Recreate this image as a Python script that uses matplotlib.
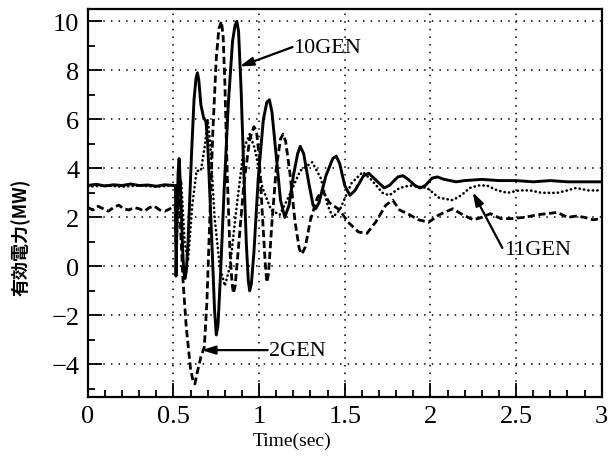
import numpy as np
import matplotlib.pyplot as plt
from matplotlib.ticker import MultipleLocator

# 10GEN (solid)
t_10 = [0, 0.05, 0.1, 0.15, 0.2, 0.25, 0.3, 0.35, 0.4, 0.45, 0.5, 0.512,
        0.515, 0.52, 0.527, 0.533, 0.54, 0.553, 0.56, 0.567, 0.575, 0.585, 0.605,
        0.62, 0.632, 0.64, 0.648, 0.66, 0.675, 0.69, 0.7, 0.712, 0.727, 0.74, 0.75,
        0.76, 0.775, 0.795, 0.82, 0.845, 0.86, 0.87, 0.88, 0.895, 0.91, 0.925, 0.937,
        0.945, 0.955, 0.97, 0.995, 1.025, 1.045, 1.06, 1.075, 1.1, 1.125, 1.15, 1.175,
        1.2, 1.225, 1.24, 1.26, 1.29, 1.315, 1.33, 1.35, 1.39, 1.43, 1.45, 1.47, 1.5,
        1.53, 1.56, 1.61, 1.64, 1.67, 1.73, 1.76, 1.81, 1.84, 1.87, 1.91, 1.94, 1.97,
        2.01, 2.04, 2.08, 2.15, 2.2, 2.3, 2.4, 2.5, 2.6, 2.7, 2.8, 2.9, 3.0]
p_10 = [3.3, 3.35, 3.28, 3.33, 3.3, 3.36, 3.3, 3.32, 3.27, 3.33, 3.3, 3.3,
        -0.4, 1.5, 3.8, 4.4, 3.4, 0.8, -0.2, -0.5, -0.2, 1.0, 4.5,
        6.8, 7.7, 7.9, 7.6, 6.6, 6.1, 5.9, 5.0, 3.0, 0.5, -1.8, -2.8,
        -2.4, -0.3, 3.0, 6.6, 9.2, 9.85, 10.0, 9.6, 7.2, 4.0, 1.0, -0.6,
        -1.0, -0.7, 0.6, 3.6, 6.0, 6.7, 6.8, 6.3, 4.5, 2.7, 2.0, 2.5,
        3.7, 4.6, 4.9, 4.6, 3.4, 2.5, 2.35, 2.6, 3.7, 4.4, 4.5, 4.2, 3.3,
        2.9, 3.1, 3.7, 3.8, 3.6, 3.2, 3.3, 3.65, 3.7, 3.55, 3.3, 3.2, 3.3,
        3.6, 3.65, 3.55, 3.45, 3.5, 3.55, 3.5, 3.5, 3.45, 3.5, 3.45, 3.45, 3.45]

# 2GEN (dashed)
t_2 = [0, 0.03, 0.06, 0.09, 0.12, 0.15, 0.18, 0.21, 0.24, 0.27, 0.3, 0.33, 0.36,
       0.39, 0.42, 0.45, 0.48, 0.51,
       0.515, 0.522, 0.53, 0.54, 0.555, 0.575, 0.6, 0.615, 0.625, 0.64, 0.66, 0.68,
       0.695, 0.71, 0.73, 0.75, 0.765, 0.78, 0.79, 0.8, 0.815, 0.83, 0.842, 0.85,
       0.86, 0.88, 0.91, 0.945, 0.97, 0.985, 1.0, 1.02, 1.035, 1.045, 1.055, 1.075,
       1.1, 1.125, 1.14, 1.155, 1.18, 1.21, 1.235, 1.25, 1.27, 1.3, 1.34, 1.37,
       1.41, 1.47, 1.52, 1.58, 1.63, 1.68, 1.74, 1.78, 1.82, 1.88, 1.93, 1.99,
       2.05, 2.13, 2.19, 2.25, 2.3, 2.35, 2.41, 2.47, 2.55, 2.62, 2.68, 2.74, 2.8,
       2.85, 2.9, 2.95, 3.0]
p_2 = [2.4, 2.3, 2.45, 2.35, 2.25, 2.4, 2.5, 2.35, 2.3, 2.4, 2.35, 2.25, 2.4,
       2.45, 2.3, 2.25, 2.35, 2.5,
       1.0, 3.0, 3.5, 1.8, -0.5, -2.5, -4.2, -4.7, -4.8, -4.3, -3.7, -3.3,
       -1.5, 1.5, 5.5, 8.5, 9.7, 10.0, 9.4, 7.5, 3.5, 0.6, -0.7, -1.1,
       -0.8, 0.8, 3.3, 5.2, 5.7, 5.5, 4.5, 2.0, 0.2, -0.65, -0.3, 1.8,
       4.0, 5.2, 5.4, 5.1, 3.8, 1.8, 0.7, 0.5, 0.8, 1.9, 2.8, 3.1,
       2.6, 2.3, 1.8, 1.4, 1.35, 1.8, 2.5, 2.7, 2.3, 2.1, 1.9, 1.8,
       2.1, 2.35, 2.1, 1.9, 2.0, 2.15, 1.95, 1.95, 2.0, 2.1, 2.15, 2.2, 2.0,
       2.05, 2.0, 1.9, 1.95]

# 11GEN (dotted)
t_11 = [0, 0.1, 0.2, 0.3, 0.4, 0.5, 0.512,
        0.515, 0.525, 0.545, 0.565, 0.585, 0.61, 0.635, 0.66, 0.685, 0.7, 0.715,
        0.74, 0.77, 0.8, 0.83, 0.87, 0.91, 0.945, 0.975, 1.02, 1.07, 1.12, 1.17,
        1.24, 1.31, 1.36, 1.4, 1.43, 1.47, 1.54, 1.605, 1.66, 1.72, 1.76, 1.82,
        1.88, 1.93, 1.98, 2.05, 2.13, 2.18, 2.23, 2.28, 2.33, 2.39, 2.45, 2.52,
        2.58, 2.65, 2.74, 2.8, 2.85, 2.92, 3.0]
p_11 = [3.25, 3.3, 3.25, 3.3, 3.25, 3.3, 3.3,
        0.5, 2.0, 3.5, 1.0, 0.2, 2.5, 3.9, 3.9, 5.0, 6.0, 5.0,
        2.0, 0.0, -0.8, 0.0, 2.5, 4.8, 5.4, 4.8, 3.2, 2.3, 2.1, 2.8,
        3.9, 4.25, 3.6, 2.5, 2.0, 2.3, 3.4, 3.85, 3.5, 3.0, 2.9, 3.2,
        3.3, 3.25, 3.2, 2.8, 2.7, 2.9, 3.2, 3.3, 3.3, 3.1, 3.0, 3.1,
        3.1, 3.0, 3.0, 3.1, 3.2, 3.1, 3.1]

xticks = [0, 0.5, 1, 1.5, 2, 2.5, 3]
yticks = [-4, -2, 0, 2, 4, 6, 8, 10]

plt.rcParams['font.family'] = ['Liberation Serif', 'DejaVu Serif']

fig = plt.figure(figsize=(6.14, 4.6), dpi=100)
ax = fig.add_axes([0.143, 0.135, 0.837, 0.843])

ax.plot(t_10, p_10, color='k', lw=2.1, ls='-', solid_joinstyle='round')
ax.plot(t_2, p_2, color='k', lw=2.0, ls=(0, (2.6, 1.3)))
ax.plot(t_11, p_11, color='k', lw=1.9, ls=(0, (0.1, 1.6)), dash_capstyle='round')

ax.set_xlim(0, 3)
ax.set_ylim(-5.33, 10.5)
ax.set_xticks(xticks)
ax.set_xticklabels(['0', '0.5', '1', '1.5', '2', '2.5', '3'])
ax.set_yticks(yticks)
ax.set_yticklabels(['\u22124', '\u22122', '0', '2', '4', '6', '8', '10'])
ax.xaxis.set_minor_locator(MultipleLocator(0.1))
ax.yaxis.set_minor_locator(MultipleLocator(1))
ax.tick_params(which='both', direction='in', top=False, right=False,
               labelsize=19, width=1.3, pad=6)
ax.tick_params(which='major', length=10)
ax.tick_params(which='minor', length=5)
ax.grid(True, which='major', color='k', ls=(0, (1, 4)), lw=1.1)
for s in ax.spines.values():
    s.set_linewidth(1.6)

ax.set_xlabel('Time(sec)', fontsize=14)
ax.xaxis.set_label_coords(0.397, -0.09)
ax.set_ylabel('有効電力(MW)', fontsize=13, family=['Noto Sans CJK JP', 'DejaVu Sans'],
              fontweight='bold')
ax.yaxis.set_label_coords(-0.112, 0.415)

arrow = dict(arrowstyle='-|>,head_length=0.8,head_width=0.25', color='k', lw=1.6,
             shrinkA=0, shrinkB=0)
ax.annotate('', xy=(0.887, 8.16), xytext=(1.195, 8.95), arrowprops=arrow)
ax.text(1.2, 8.95, '10GEN', fontsize=16, va='center', ha='left')
ax.annotate('', xy=(0.665, -3.42), xytext=(1.05, -3.42), arrowprops=arrow)
ax.text(1.06, -3.42, '2GEN', fontsize=16, va='center', ha='left')
ax.annotate('', xy=(2.247, 3.03), xytext=(2.42, 0.75), arrowprops=arrow)
ax.text(2.43, 0.7, '11GEN', fontsize=16, va='center', ha='left')

fig.savefig('out.png', dpi=100)
